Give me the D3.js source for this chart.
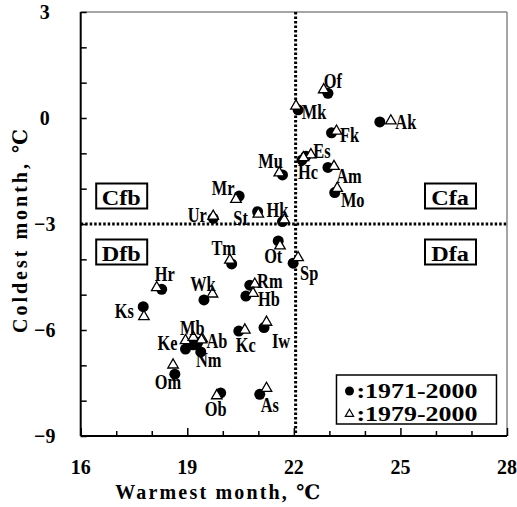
<html>
  <head>
    <script src="https://d3js.org/d3.v7.min.js"></script>
    <style>
      body {margin:0; background:white;}
      text {fill:#000;}
    </style>
  </head>
  <body>
    <div id="chart1"></div>
    <script>
      // station codes
      var stations = ["Of","Mk","Ak","Fk","Es","Hc","Am","Mo","Mu","Mr","Ur","St","Hk","Ot","Sp",
                      "Tm","Rm","Hb","Wk","Hr","Ks","Ke","Mb","Ab","Nm","Om","Kc","Iw","Ob","As"];
      // 1971-2000 normals (warmest, coldest month)
      var warm7100 = [22.96,22.12,24.42,23.06,22.34,22.23,22.96,23.15,21.68,20.46,19.73,20.98,21.68,21.56,21.98,
                      20.25,20.76,20.65,19.47,18.28,17.76,18.95,19.17,19.30,19.38,18.65,20.45,21.16,19.94,21.04];
      var cold7100 = [0.70,0.23,-0.11,-0.42,-1.08,-1.19,-1.40,-2.11,-1.61,-2.21,-2.84,-2.65,-2.93,-3.48,-4.11,
                      -4.13,-4.73,-5.04,-5.15,-4.85,-5.34,-6.54,-6.42,-6.35,-6.62,-7.25,-6.03,-5.93,-7.78,-7.82];
      // 1979-2000
      var warm7900 = [22.84,22.06,24.73,23.20,22.48,22.27,23.13,23.22,21.59,20.37,19.73,21.00,21.73,21.61,22.12,
                      20.20,20.90,20.85,19.71,18.14,17.78,18.95,19.17,19.42,19.40,18.60,20.62,21.23,19.83,21.23];
      var cold7900 = [0.80,0.34,-0.08,-0.37,-1.04,-1.12,-1.37,-1.99,-1.55,-2.30,-2.78,-2.72,-2.88,-3.62,-3.95,
                      -4.02,-4.70,-4.96,-4.98,-4.80,-5.62,-6.30,-6.21,-6.25,-6.28,-6.99,-6.00,-5.78,-7.86,-7.65];
      var xTicks = [16,19,22,25,28];
      var yTicks = [3,0,-3,-6,-9];
      var zones = ["Cfb","Cfa","Dfb","Dfa"];
      var seriesNames = ["1971-2000","1979-2000"];

      // label placement (pixel offset of label centre from the 1971-2000 point)
      var labelOffsets = {
        Of:[5,-13], Mk:[16,2], Ak:[26,0], Fk:[18,2], Es:[16,-5], Hc:[6,12], Am:[21,8], Mo:[18,7],
        Mu:[-12,-14], Mr:[-16,-8], Ur:[-16,-4], St:[-17,6], Hk:[-5,-12], Ot:[-5,15], Sp:[16,10],
        Tm:[-8,-16], Rm:[20,-4], Hb:[23,3], Wk:[-1,-16], Hr:[3,-16], Ks:[-19,4], Ke:[-18,-6],
        Mb:[-1,-17], Ab:[19,-2], Nm:[8,8], Om:[-7,8], Kc:[7,14], Iw:[17,13], Ob:[-5,16], As:[10,10]
      };

      var W = 517, H = 507;
      var margin = {top: 12, right: 10, bottom: 71, left: 80.7},
          width = W - margin.left - margin.right,
          height = H - margin.top - margin.bottom;
      var serif = "'Liberation Serif', 'DejaVu Serif', serif";

      var svg = d3.select("#chart1").append("svg")
          .attr("width", W).attr("height", H)
        .append("g")
          .attr("transform", "translate(" + margin.left + "," + margin.top + ")");

      var x = d3.scaleLinear().domain([16, 28]).range([0, width]);
      var y = d3.scaleLinear().domain([-9, 3]).range([height, 0]);

      // condensed serif text, like the original's Mincho face
      function label(g, px, py, txt, size, sx) {
        return g.append("text")
          .attr("transform", "translate(" + px + "," + py + ") scale(" + sx + ",1)")
          .attr("text-anchor", "middle").attr("dominant-baseline", "central")
          .style("font-family", serif).style("font-size", size + "px").style("font-weight", "bold")
          .text(txt);
      }

      // frame: top and right in grey
      svg.append("line").attr("x1", 0).attr("x2", width).attr("y1", 0).attr("y2", 0)
        .attr("stroke", "#888").attr("stroke-width", 1.5);
      svg.append("line").attr("x1", width).attr("x2", width).attr("y1", 0).attr("y2", height)
        .attr("stroke", "#888").attr("stroke-width", 1.5);

      // inward ticks
      var xAxis = d3.axisTop(x).tickValues(d3.range(16, 29, 1)).tickSize(5).tickFormat("");
      svg.append("g").attr("transform", "translate(0," + height + ")").call(xAxis)
        .call(function(g){
          g.select(".domain").remove();
          g.selectAll(".tick line").attr("stroke-width", 1.5)
            .attr("y2", function(d){ return (d - 16) % 3 === 0 ? -8 : -5; });
        });
      var yAxis = d3.axisRight(y).tickValues(d3.range(-9, 4, 1)).tickSize(6).tickFormat("");
      svg.append("g").call(yAxis)
        .call(function(g){
          g.select(".domain").remove();
          g.selectAll(".tick line").attr("stroke-width", 1.5);
        });
      svg.append("line").attr("x1", 0).attr("x2", width).attr("y1", height).attr("y2", height)
        .attr("stroke", "#000").attr("stroke-width", 2);
      svg.append("line").attr("x1", 0).attr("x2", 0).attr("y1", 0).attr("y2", height)
        .attr("stroke", "#000").attr("stroke-width", 2);

      // tick labels
      xTicks.forEach(function(d){
        label(svg, x(d), height + 31, d, 21, 0.95);
      });
      yTicks.forEach(function(d){
        label(svg, -36, y(d), d < 0 ? "\u2212" + Math.abs(d) : d, 21, 0.95);
      });

      // axis titles (monospaced look)
      svg.append("text")
        .attr("x", 137).attr("y", height + 56)
        .attr("text-anchor", "middle").attr("dominant-baseline", "central")
        .attr("textLength", 205).attr("lengthAdjust", "spacing")
        .style("font-family", serif).style("font-size", "20px").style("font-weight", "bold")
        .text("Warmest month, \u2103");
      svg.append("text")
        .attr("transform", "translate(" + (-61) + "," + y(-3.2) + ") rotate(-90)")
        .attr("text-anchor", "middle").attr("dominant-baseline", "central")
        .attr("textLength", 204).attr("lengthAdjust", "spacing")
        .style("font-family", serif).style("font-size", "20px").style("font-weight", "bold")
        .text("Coldest month, \u2103");

      // climate boundaries
      svg.append("line").attr("x1", x(22.05)).attr("x2", x(22.05)).attr("y1", 0).attr("y2", height)
        .attr("stroke", "#000").attr("stroke-width", 3).attr("stroke-dasharray", "2.5,2");
      svg.append("line").attr("x1", 0).attr("x2", width).attr("y1", y(-3)).attr("y2", y(-3))
        .attr("stroke", "#000").attr("stroke-width", 3).attr("stroke-dasharray", "2.5,2");

      // zone boxes
      var zoneGroups = svg.selectAll(".zone").data(zones).enter().append("g")
        .attr("transform", function(d, i){
          var cx = (i % 2 === 0) ? 40.5 : width - 57;
          var cy = y(-3) + (i < 2 ? -28 : 28);
          return "translate(" + cx + "," + cy + ")";
        });
      zoneGroups.append("rect")
        .attr("x", -25).attr("y", -12.5).attr("width", 51).attr("height", 25)
        .attr("fill", "white").attr("stroke", "#000").attr("stroke-width", 2);
      zoneGroups.each(function(d){
        label(d3.select(this), 0, 1, d, 22, 1.1);
      });

      var data = stations.map(function(s, i){
        return {name: s, w1: warm7100[i], c1: cold7100[i], w2: warm7900[i], c2: cold7900[i]};
      });

      var tri = d3.symbol().type(d3.symbolTriangle).size(48);

      // points
      svg.selectAll(".p1").data(data).enter().append("circle")
        .attr("cx", function(d){ return x(d.w1); })
        .attr("cy", function(d){ return y(d.c1); })
        .attr("r", 5.5).attr("fill", "#000");
      svg.selectAll(".p2").data(data).enter().append("path")
        .attr("d", tri)
        .attr("transform", function(d){ return "translate(" + x(d.w2) + "," + y(d.c2) + ")"; })
        .attr("fill", "white").attr("stroke", "#000").attr("stroke-width", 1.3);

      // station labels
      data.forEach(function(d){
        label(svg, x(d.w1) + labelOffsets[d.name][0], y(d.c1) + labelOffsets[d.name][1], d.name, 21, 0.78);
      });

      // legend
      var lg = svg.append("g").attr("transform", "translate(" + x(23.2) + "," + (height - 61) + ")");
      lg.append("rect").attr("x", 0).attr("y", 0).attr("width", 160).attr("height", 49)
        .attr("fill", "white").attr("stroke", "#000").attr("stroke-width", 1.5);
      lg.append("circle").attr("cx", 13).attr("cy", 16).attr("r", 4.5).attr("fill", "#000");
      lg.append("path").attr("d", d3.symbol().type(d3.symbolTriangle).size(30))
        .attr("transform", "translate(13,39)")
        .attr("fill", "white").attr("stroke", "#000").attr("stroke-width", 1.2);
      seriesNames.forEach(function(d, i){
        lg.append("text")
          .attr("x", 20).attr("y", 16 + i * 23)
          .attr("dominant-baseline", "central")
          .attr("textLength", 121).attr("lengthAdjust", "spacingAndGlyphs")
          .style("font-family", serif).style("font-size", "21px").style("font-weight", "bold")
          .text(":" + d);
      });
    </script>
  </body>
</html>
